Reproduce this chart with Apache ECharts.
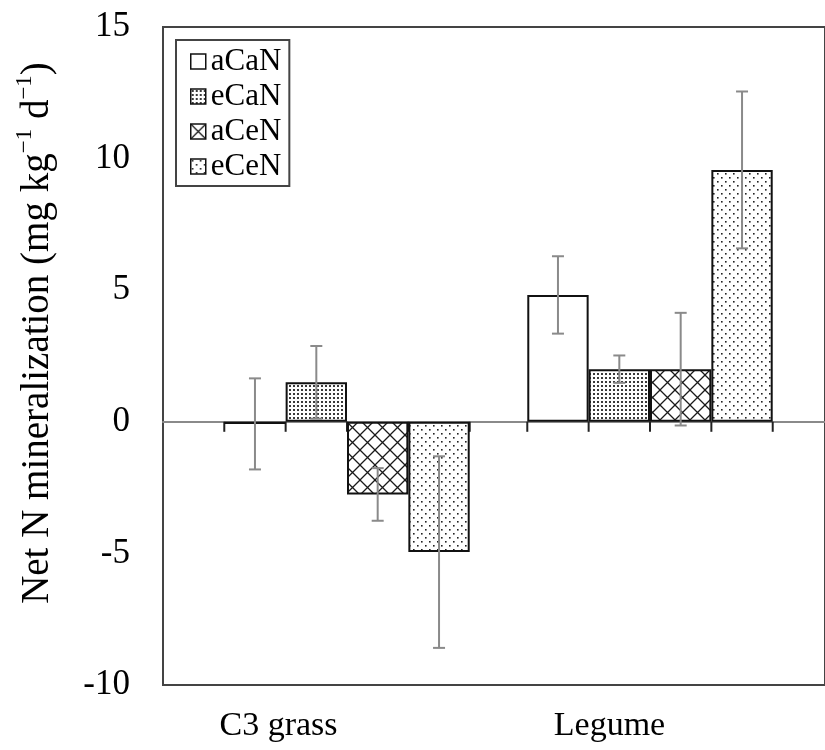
<!DOCTYPE html>
<html>
<head>
<meta charset="utf-8">
<script src="https://cdn.jsdelivr.net/npm/echarts@6/dist/echarts.min.js"></script>
<style>
  html, body { margin: 0; padding: 0; background: #fff; }
  #chart { width: 825px; height: 750px; }
</style>
</head>
<body>
<div id="chart"></div>
<script>
// Plant functional groups on the x axis
const categories = ['C3 grass', 'Legume'];
// CO2 x N treatments
const seriesNames = ['aCaN', 'eCaN', 'aCeN', 'eCeN'];

// Net N mineralization means (mg kg-1 d-1), one value per category
const aCaN = [-0.08, 4.82];
const eCaN = [1.50, 2.00];
const aCeN = [-2.76, 2.00];
const eCeN = [-4.95, 9.57];

// Standard errors, same order
const aCaNErr = [1.73, 1.47];
const eCaNErr = [1.38, 0.52];
const aCeNErr = [1.00, 2.14];
const eCeNErr = [3.64, 2.98];

// Y axis range and step
const yMin = -10;
const yMax = 15;
const yStep = 5;

const means = [aCaN, eCaN, aCeN, eCeN];
const errs = [aCaNErr, eCaNErr, aCeNErr, eCeNErr];

const SERIF = '"Liberation Serif", "Times New Roman", serif';
const BAR_FRAC = 0.2025; // bar width as a share of the category band

// Small repeating tiles used as fill patterns
function tile(size, draw) {
  const c = document.createElement('canvas');
  c.width = size; c.height = size;
  const ctx = c.getContext('2d');
  ctx.fillStyle = '#ffffff';
  ctx.fillRect(0, 0, size, size);
  draw(ctx, size);
  return c;
}
const fills = [
  '#ffffff',
  { image: tile(4, (ctx) => { ctx.fillStyle = '#3a3a3a'; ctx.fillRect(1, 1, 2, 2); }), repeat: 'repeat' },
  { image: tile(15, (ctx, s) => {
      ctx.strokeStyle = '#1a1a1a'; ctx.lineWidth = 1.3;
      ctx.beginPath();
      ctx.moveTo(0, 0); ctx.lineTo(s, s);
      ctx.moveTo(s, 0); ctx.lineTo(0, s);
      ctx.stroke();
    }), repeat: 'repeat' },
  { image: tile(8, (ctx) => {
      ctx.fillStyle = '#222222';
      ctx.fillRect(1, 1, 1.6, 1.6);
      ctx.fillRect(5, 5, 1.6, 1.6);
    }), repeat: 'repeat' }
];

const barSeries = seriesNames.map((name, s) => ({
  name: name,
  type: 'bar',
  xAxisIndex: 2,
  yAxisIndex: 1,
  barWidth: (BAR_FRAC * 100) + '%',
  barGap: '0%',
  z: 3,
  itemStyle: { color: fills[s], borderColor: '#111', borderWidth: 2 },
  emphasis: { disabled: true },
  data: means[s]
}));

// Error bar data: [category index, mean, error, series index]
const errData = [];
seriesNames.forEach((n, s) => {
  categories.forEach((c, i) => errData.push([i, means[s][i], errs[s][i], s]));
});

const errorSeries = {
  type: 'custom',
  xAxisIndex: 2,
  yAxisIndex: 1,
  z: 5,
  silent: true,
  data: errData,
  renderItem: function (params, api) {
    const i = api.value(0), v = api.value(1), e = api.value(2), s = api.value(3);
    const center = api.coord([i, 0])[0];
    const bw = api.size([1, 0])[0] * BAR_FRAC;
    const x = center + (s - 1.5) * bw;
    const yHi = api.coord([i, v + e])[1];
    const yLo = api.coord([i, v - e])[1];
    const st = { stroke: '#8a8a8a', lineWidth: 2 };
    const cap = 6;
    return {
      type: 'group',
      children: [
        { type: 'line', shape: { x1: x, y1: yHi, x2: x, y2: yLo }, style: st },
        { type: 'line', shape: { x1: x - cap, y1: yHi, x2: x + cap, y2: yHi }, style: st },
        { type: 'line', shape: { x1: x - cap, y1: yLo, x2: x + cap, y2: yLo }, style: st }
      ]
    };
  }
};

// Short marks below the zero line at each bar edge
const edgeTicks = {
  type: 'custom',
  xAxisIndex: 2,
  yAxisIndex: 1,
  z: 1,
  silent: true,
  data: categories.map((c, i) => [i, 0]),
  renderItem: function (params, api) {
    const i = api.value(0);
    const p = api.coord([i, 0]);
    const bw = api.size([1, 0])[0] * BAR_FRAC;
    const kids = [];
    for (let k = 0; k <= seriesNames.length; k++) {
      const x = p[0] + (k - seriesNames.length / 2) * bw;
      kids.push({ type: 'line', shape: { x1: x, y1: p[1], x2: x, y2: p[1] + 10 },
                  style: { stroke: '#222', lineWidth: 2 } });
    }
    return { type: 'group', children: kids };
  }
};

const chart = echarts.init(document.getElementById('chart'), null, { renderer: 'canvas' });
chart.setOption({
  animation: false,
  backgroundColor: '#ffffff',
  grid: [
    { left: 163, top: 27, width: 670, height: 658, show: true,
      borderColor: '#444', borderWidth: 2, backgroundColor: 'transparent' },
    { left: 195.5, top: 27, width: 606, height: 658 }
  ],
  legend: {
    data: seriesNames,
    orient: 'vertical',
    left: 176,
    top: 40,
    padding: [6, 8, 4, 14],
    itemWidth: 15,
    itemHeight: 15,
    itemGap: 4,
    icon: 'rect',
    borderColor: '#444',
    borderWidth: 2,
    backgroundColor: '#fff',
    textStyle: { fontFamily: SERIF, fontSize: 31, color: '#000', padding: [0, 0, 0, 0] },
    itemStyle: { borderColor: '#111', borderWidth: 1.5 }
  },
  xAxis: [
    { type: 'category', gridIndex: 0, data: categories, position: 'bottom',
      axisLine: { show: false, onZero: false }, axisTick: { show: false },
      axisLabel: { fontFamily: SERIF, fontSize: 34, color: '#000', margin: 24,
                   padding: [0, 100, 0, 0] } },
    { type: 'category', gridIndex: 0, data: categories, position: 'top',
      axisLine: { show: true, onZero: true, lineStyle: { color: '#8a8a8a', width: 2 } },
      axisTick: { show: false }, axisLabel: { show: false } },
    { type: 'category', gridIndex: 1, data: categories, show: false }
  ],
  yAxis: [
    { type: 'value', gridIndex: 0, min: yMin, max: yMax, interval: yStep,
      name: '{t|Net N mineralization (mg kg}{s|\u22121}{t| d}{s|\u22121}{t|)}',
      nameLocation: 'middle', nameGap: 106, nameRotate: 90,
      nameTextStyle: {
        padding: [0, 0, 0, 46],
        rich: {
          t: { fontFamily: SERIF, fontSize: 39, color: '#000', verticalAlign: 'bottom', lineHeight: 44 },
          s: { fontFamily: SERIF, fontSize: 23, color: '#000', verticalAlign: 'top', lineHeight: 44, padding: [0, 0, 16, 0] }
        }
      },
      axisLine: { show: true, lineStyle: { color: '#444', width: 2 } },
      axisTick: { show: false },
      splitLine: { show: false },
      axisLabel: { fontFamily: SERIF, fontSize: 35, color: '#000', margin: 33 } },
    { type: 'value', gridIndex: 1, min: yMin, max: yMax, interval: yStep, show: false }
  ],
  series: barSeries.concat([errorSeries, edgeTicks])
});
</script>
</body>
</html>
